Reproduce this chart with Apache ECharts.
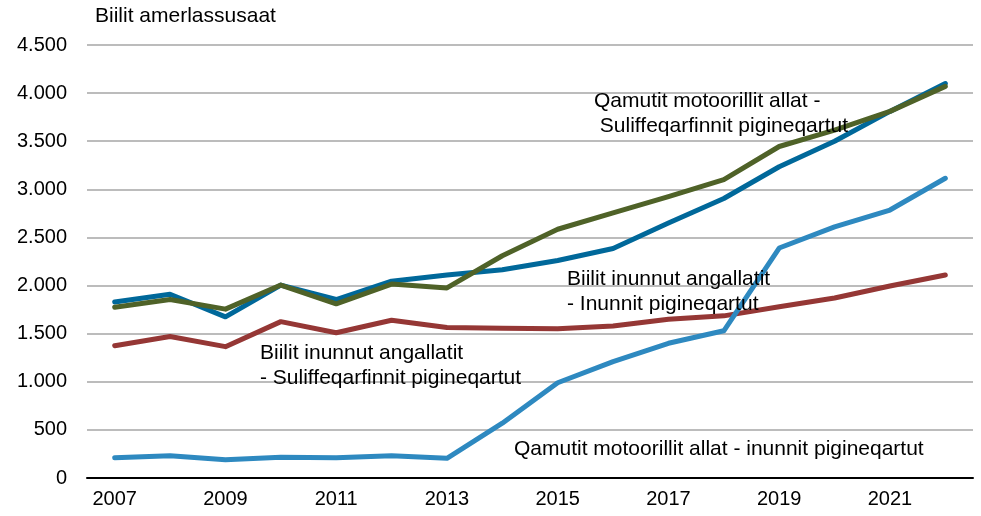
<!DOCTYPE html>
<html>
<head>
<meta charset="utf-8">
<script src="https://cdn.jsdelivr.net/npm/echarts@6.0.0/dist/echarts.min.js"></script>
<style>
  html, body { margin: 0; padding: 0; background: #fff; }
  #chart { width: 981px; height: 516px; }
</style>
</head>
<body>
<div id="chart"></div>
<script>
const years = ['2007', '2008', '2009', '2010', '2011', '2012', '2013', '2014',
  '2015', '2016', '2017', '2018', '2019', '2020', '2021', '2022'];

// Biilit inunnut angallatit - Inunnit pigineqartut (dark blue)
const carsPrivate = [1830, 1910, 1675, 2005, 1855, 2045, 2110, 2165,
  2260, 2385, 2650, 2905, 3235, 3500, 3810, 4100];
// Qamutit motoorillit allat - Suliffeqarfinnit pigineqartut (green)
const otherCompany = [1775, 1855, 1755, 2005, 1810, 2015, 1975, 2310,
  2585, 2755, 2925, 3100, 3445, 3615, 3810, 4070];
// Biilit inunnut angallatit - Suliffeqarfinnit pigineqartut (red)
const carsCompany = [1375, 1470, 1365, 1625, 1510, 1640, 1565, 1555,
  1550, 1580, 1650, 1685, 1780, 1870, 1995, 2110];
// Qamutit motoorillit allat - inunnit pigineqartut (light blue)
const otherPrivate = [210, 230, 190, 215, 210, 230, 205, 570,
  990, 1210, 1400, 1530, 2390, 2610, 2785, 3115];

const font = '"Liberation Sans", Arial, sans-serif';
const txt = { fontFamily: font, fontSize: 20, color: '#000' };
const noteFont = `21px ${font}`;

const chart = echarts.init(document.getElementById('chart'), null, { renderer: 'canvas' });

const mkLine = (name, data, color) => ({
  name,
  type: 'line',
  data,
  symbol: 'none',
  smooth: false,
  lineStyle: { width: 5, color, cap: 'round', join: 'round' },
  itemStyle: { color },
  animation: false
});

chart.setOption({
  backgroundColor: '#fff',
  animation: false,
  grid: { left: 87, right: 8, top: 45, bottom: 38 },
  xAxis: {
    type: 'category',
    data: years,
    boundaryGap: true,
    axisLine: { lineStyle: { color: '#000', width: 2 } },
    axisTick: { show: false },
    axisLabel: { ...txt, interval: 1, margin: 11 }
  },
  yAxis: {
    type: 'value',
    min: 0,
    max: 4500,
    interval: 500,
    axisLine: { show: false },
    axisTick: { show: false },
    axisLabel: {
      ...txt,
      margin: 20,
      formatter: (v) => String(v).replace(/\B(?=(\d{3})+(?!\d))/g, '.')
    },
    splitLine: { lineStyle: { color: '#a6a6a6', width: 1.5 } }
  },
  graphic: [
    { type: 'text', left: 95, top: 6, style: { text: 'Biilit amerlassusaat', font: noteFont, fill: '#000' } },
    { type: 'text', left: 594, top: 89, style: { text: 'Qamutit motoorillit allat -\n Suliffeqarfinnit pigineqartut', font: noteFont, fill: '#000', lineHeight: 25 }, z: 100 },
    { type: 'text', left: 567, top: 267, style: { text: 'Biilit inunnut angallatit\n- Inunnit pigineqartut', font: noteFont, fill: '#000', lineHeight: 25 }, z: 100 },
    { type: 'text', left: 260, top: 341, style: { text: 'Biilit inunnut angallatit\n- Suliffeqarfinnit pigineqartut', font: noteFont, fill: '#000', lineHeight: 25 }, z: 100 },
    { type: 'text', left: 514, top: 439, style: { text: 'Qamutit motoorillit allat - inunnit pigineqartut', font: noteFont, fill: '#000' }, z: 100 }
  ],
  series: [
    mkLine('Biilit inunnut angallatit - Suliffeqarfinnit pigineqartut', carsCompany, '#953735'),
    mkLine('Qamutit motoorillit allat - inunnit pigineqartut', otherPrivate, '#2e89c0'),
    mkLine('Biilit inunnut angallatit - Inunnit pigineqartut', carsPrivate, '#00689a'),
    mkLine('Qamutit motoorillit allat - Suliffeqarfinnit pigineqartut', otherCompany, '#4f6228')
  ]
});
</script>
</body>
</html>
